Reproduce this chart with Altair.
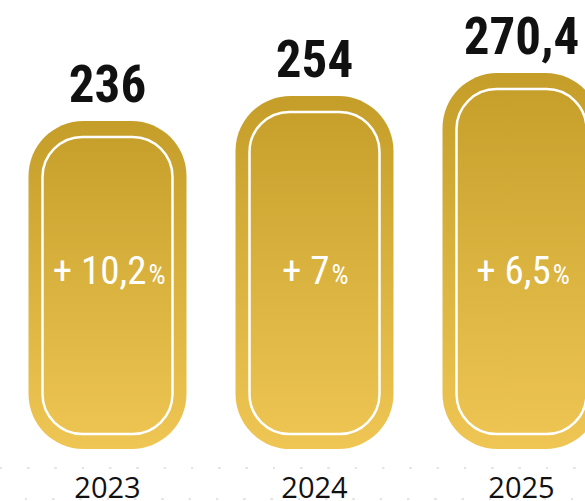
import altair as alt
import pandas as pd

years = ["2023", "2024", "2025"]
values = [236, 254, 270.4]
value_labels = ["236", "254", "270,4"]
growth_labels = ["+ 10,2", "+ 7", "+ 6,5"]
growth_unit = ["%", "%", "%"]

df = pd.DataFrame({
    "year": years,
    "value": values,
    "label": value_labels,
    "growth": growth_labels,
    "unit": growth_unit,
})

NARROW = "Roboto Condensed, Liberation Sans, sans-serif"
MAIN_FS = 39
UNIT_FS = 27
# approximate glyph advance widths (em) of the label font
W_DIGIT, W_PLUS, W_OTHER, W_PCT = 0.506, 0.50, 0.22, 0.66
HALF_STEP = 103.5

gold = alt.Gradient(
    gradient="linear", x1=0, y1=0, x2=0, y2=1,
    stops=[alt.GradientStop(color="#C59E2A", offset=0),
           alt.GradientStop(color="#EFC653", offset=1)],
)

x = alt.X(
    "year:N",
    sort=None,
    scale=alt.Scale(range=[4, 625], paddingInner=0, paddingOuter=0),
    axis=alt.Axis(title=None, domain=False, ticks=False, labelAngle=0,
                  labelFont="Open Sans", labelFontSize=29, labelColor="#111111",
                  labelPadding=25, labelBaseline="top"),
)
y = alt.Y("value:Q", scale=alt.Scale(domain=[0, 323], nice=False, zero=True), axis=None)
y2 = alt.Y2(datum=0)

base = alt.Chart(df)

outer = base.mark_bar(width=158, cornerRadius=55, color=gold).encode(x=x, y=y, y2=y2)

inner = base.mark_bar(
    width=130, cornerRadius=40, fill="transparent", stroke="white",
    strokeWidth=2.5, yOffset=16, y2Offset=-15,
).encode(x=x, y=y, y2=y2)

value_text = base.mark_text(
    font=NARROW, fontWeight="bold", fontSize=51, dy=-19,
    baseline="alphabetic", color="#111111",
).encode(x=x, y=y, text="label:N")

off_expr = (
    f"{HALF_STEP} + ({MAIN_FS}*({W_DIGIT}*length(replace(datum.growth, regexp('[^0-9]','g'), ''))"
    f" + {W_PLUS}*length(replace(datum.growth, regexp('[^+]','g'), ''))"
    f" + {W_OTHER}*(length(datum.growth) - length(replace(datum.growth, regexp('[^0-9+]','g'), ''))))"
    f" - {W_PCT}*{UNIT_FS}) / 2"
)

growth_main = base.transform_calculate(off=off_expr).mark_text(
    font=NARROW, fontSize=MAIN_FS, align="right", baseline="alphabetic", color="white",
).encode(x=x, xOffset=alt.XOffset("off:Q", scale=None), y=alt.value(284), text="growth:N")

growth_pct = base.transform_calculate(off=off_expr).mark_text(
    font=NARROW, fontSize=UNIT_FS, align="left", baseline="alphabetic", color="white", dx=2,
).encode(x=x, xOffset=alt.XOffset("off:Q", scale=None), y=alt.value(284), text="unit:N")

dots1 = base.mark_rule(color="#e4e4e4", strokeWidth=2, strokeDash=[2, 25.3]).encode(
    x=alt.value(0), x2=alt.value(585), y=alt.value(468))
dots2 = base.mark_rule(color="#e4e4e4", strokeWidth=2, strokeDash=[2, 25.3], strokeDashOffset=-25).encode(
    x=alt.value(0), x2=alt.value(585), y=alt.value(499))

chart = alt.layer(dots1, dots2, outer, inner, value_text, growth_main, growth_pct).properties(
    width=585, height=449,
    autosize=alt.AutoSizeParams(type="none"),
    padding={"left": 0, "right": 0, "top": 0, "bottom": 52},
    background="white",
).configure_view(stroke=None)

chart.save("out.html", embed_options={"renderer": "svg", "actions": False})
